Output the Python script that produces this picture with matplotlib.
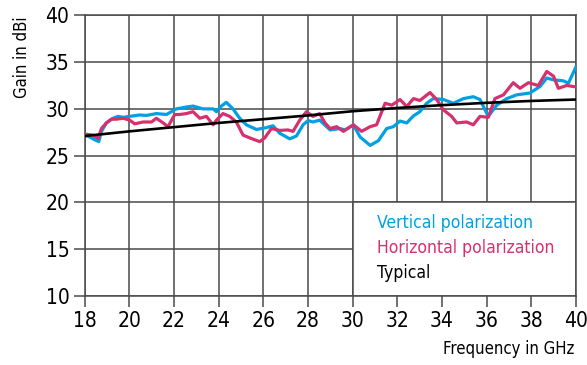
import numpy as np
import matplotlib
matplotlib.use("Agg")
import matplotlib.pyplot as plt
from matplotlib.patches import Rectangle

plt.rcParams['font.family'] = ['DejaVu Sans']
plt.rcParams['font.stretch'] = 'condensed'

# Vertical polarization (blue)
vert_freq = [18.0, 18.22, 18.45, 18.63, 18.75, 18.97, 19.27, 19.49, 19.72, 20.01,
             20.46, 20.76, 21.21, 21.66, 22.1, 22.55, 22.85, 23.3, 23.75, 23.9,
             24.12, 24.34, 24.64, 24.94, 25.24, 25.69, 26.13, 26.43, 26.73, 27.18,
             27.48, 27.78, 28.0, 28.22, 28.52, 28.99, 29.43, 29.66, 30.03, 30.33,
             30.78, 31.15, 31.52, 31.82, 32.12, 32.42, 32.72, 33.01, 33.31, 33.61,
             34.06, 34.51, 34.96, 35.4, 35.7, 36.07, 36.45, 36.9, 37.34, 37.94,
             38.39, 38.69, 38.99, 39.43, 39.66, 40.0]
vert_gain = [27.2, 27.0, 26.7, 26.5, 27.6, 28.5, 29.0, 29.2, 29.1, 29.2,
             29.35, 29.3, 29.5, 29.4, 30.0, 30.2, 30.3, 30.0, 30.0, 29.7,
             30.3, 30.7, 30.0, 29.0, 28.3, 27.8, 28.0, 28.2, 27.4, 26.8,
             27.1, 28.3, 28.75, 28.6, 28.8, 27.75, 27.9, 27.75, 28.3, 27.0,
             26.1, 26.6, 27.9, 28.1, 28.7, 28.5, 29.25, 29.7, 30.6, 31.1,
             31.0, 30.6, 31.1, 31.3, 31.0, 29.2, 30.4, 31.1, 31.5, 31.7,
             32.4, 33.3, 33.1, 33.0, 32.75, 34.5]

# Horizontal polarization (pink)
horz_freq = [18.0, 18.37, 18.6, 18.75, 18.97, 19.19, 19.42, 19.72, 20.01, 20.24,
             20.61, 20.99, 21.21, 21.51, 21.73, 22.03, 22.25, 22.55, 22.85, 23.15,
             23.45, 23.75, 23.9, 24.19, 24.49, 24.79, 25.09, 25.39, 25.61, 25.84,
             26.06, 26.36, 26.73, 27.1, 27.33, 27.63, 27.93, 28.22, 28.52, 28.76,
             28.99, 29.28, 29.58, 30.03, 30.4, 30.78, 31.07, 31.45, 31.75, 32.12,
             32.42, 32.72, 33.01, 33.46, 33.76, 34.06, 34.43, 34.66, 35.1, 35.4,
             35.7, 36.07, 36.37, 36.75, 37.19, 37.49, 37.87, 38.31, 38.69, 38.99,
             39.21, 39.58, 40.0]
horz_gain = [27.3, 27.2, 26.85, 27.9, 28.5, 28.9, 28.9, 29.0, 28.8, 28.4,
             28.6, 28.6, 29.0, 28.5, 28.1, 29.4, 29.4, 29.5, 29.7, 29.0,
             29.2, 28.3, 28.8, 29.5, 29.2, 28.6, 27.2, 26.9, 26.7, 26.5,
             26.9, 27.9, 27.7, 27.75, 27.6, 28.8, 29.7, 29.2, 29.5, 28.5,
             27.9, 28.1, 27.6, 28.3, 27.6, 28.1, 28.3, 30.6, 30.4, 31.0,
             30.25, 31.1, 30.9, 31.75, 31.0, 29.9, 29.2, 28.5, 28.6, 28.3,
             29.2, 29.1, 31.1, 31.5, 32.8, 32.2, 32.8, 32.5, 34.0, 33.5,
             32.2, 32.5, 32.35]

# Typical curve (black)
typ_freq = [18, 20, 22, 24, 26, 28, 30, 32, 34, 36, 38, 40]
typ_gain = [27.1, 27.6, 28.05, 28.5, 28.9, 29.3, 29.75, 30.1, 30.4, 30.65, 30.85, 31.0]

x_ticks = list(range(18, 41, 2))
y_ticks = list(range(10, 41, 5))

legend_labels = ["Vertical polarization", "Horizontal polarization", "Typical"]
blue = "#00a0e3"
pink = "#d6306e"
colors = [blue, pink, "black"]

fig = plt.figure(figsize=(5.87, 3.65), dpi=100)
ax = fig.add_axes([0.1443, 0.189, 0.8370, 0.769])

ax.plot(vert_freq, vert_gain, color=blue, lw=2.3, zorder=3)
ax.plot(horz_freq, horz_gain, color=pink, lw=2.3, zorder=4)
ax.plot(typ_freq, typ_gain, color="black", lw=1.9, zorder=5)

ax.set_xlim(18, 40)
ax.set_ylim(10, 40)
ax.set_xticks(x_ticks)
ax.set_yticks(y_ticks)
ax.grid(True, color="#4a4a4a", lw=1.1, zorder=1)
ax.set_axisbelow(True)
for s in ax.spines.values():
    s.set_color("#4a4a4a")
    s.set_linewidth(1.1)
ax.tick_params(length=8, width=1.1, color="#4a4a4a", labelsize=15, pad=3)

# white legend box over the lower-right grid cells
ax.add_patch(Rectangle((30, 10), 10, 10, facecolor="white", edgecolor="#4a4a4a",
                       lw=1.1, zorder=2))
for lbl, c, y in zip(legend_labels, colors, [17.8, 15.13, 12.46]):
    ax.text(31.1, y, lbl, color=c, fontsize=12.6, va="center", ha="left", zorder=6)

fig.text(0.979, 0.018, "Frequency in GHz", ha="right", va="bottom", fontsize=12)
fig.text(0.022, 0.955, "Gain in dBi", rotation=90, ha="left", va="top", fontsize=12)

fig.savefig("out.png", dpi=100)
